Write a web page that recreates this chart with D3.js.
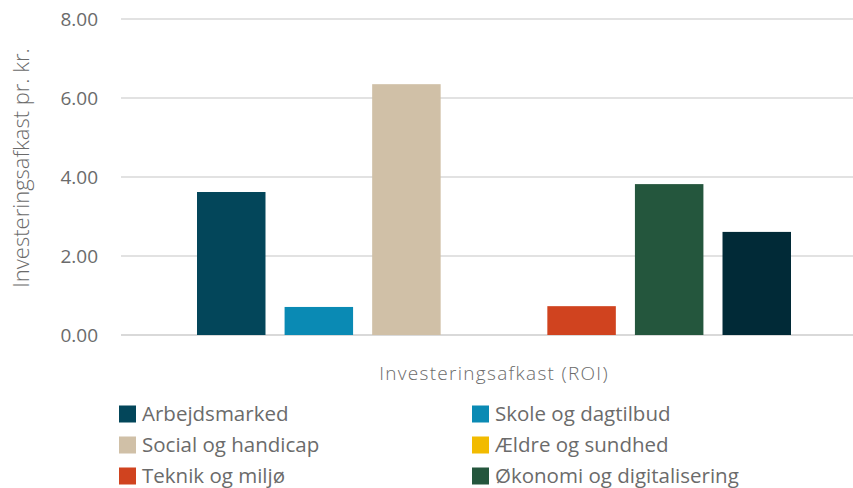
<!DOCTYPE html>
<html>
<head>
<meta charset="utf-8">
<script src="https://cdn.jsdelivr.net/npm/d3@7"></script>
<style>
  html, body { margin: 0; padding: 0; background: #fff; }
  svg { display: block; font-family: "Open Sans", sans-serif; }
</style>
</head>
<body>
<svg id="chart" width="853" height="488"></svg>
<script>
const categories = ["Arbejdsmarked", "Skole og dagtilbud", "Social og handicap", "Ældre og sundhed", "Teknik og miljø", "Økonomi og digitalisering", "Øvrige"];
const values = [3.62, 0.71, 6.35, 0, 0.73, 3.82, 2.61];
const colors = ["#03465a", "#0a8ab4", "#d0c0a7", "#f2bb00", "#d0431f", "#24563d", "#012a37"];
const legendCount = 6; // the reference shows only the first six legend entries
const yTicks = [0, 2, 4, 6, 8];
const xTitle = "Investeringsafkast (ROI)";
const yTitle = "Investeringsafkast pr. kr.";

const svg = d3.select("#chart");
const textColor = "#6b6b6b";

const y = d3.scaleLinear().domain([0, 8]).range([335, 19]);
const x = d3.scaleBand().domain(categories).range([197, 791]).paddingInner(0.218).paddingOuter(0);

// y axis labels
const yAxis = d3.axisLeft(y).tickValues(yTicks).tickFormat(d3.format(".2f")).tickSize(0).tickPadding(0);
const gAxis = svg.append("g").attr("transform", "translate(98,0)").call(yAxis);
gAxis.select(".domain").remove();
gAxis.selectAll("text").attr("font-size", 19).attr("fill", textColor).attr("x", 0).attr("dy", "0.35em")
  .style("font-family", "Open Sans");

// gridlines
svg.append("g").selectAll("line").data(yTicks).join("line")
  .attr("x1", 121).attr("x2", 853)
  .attr("y1", d => y(d)).attr("y2", d => y(d))
  .attr("stroke", "#d9d9d9").attr("stroke-width", d => d === 0 ? 2 : 1.5);

// bars
svg.append("g").selectAll("rect").data(categories).join("rect")
  .attr("x", d => x(d))
  .attr("width", x.bandwidth())
  .attr("y", (d, i) => y(values[i]))
  .attr("height", (d, i) => y(0) - y(values[i]))
  .attr("fill", (d, i) => colors[i]);

// y title
svg.append("text")
  .attr("transform", "translate(29,168) rotate(-90)")
  .attr("text-anchor", "middle")
  .attr("font-size", 22)
  .attr("font-weight", 300)
  .attr("fill", textColor)
  .text(yTitle);

// x title
svg.append("text")
  .attr("x", 494).attr("y", 380)
  .attr("text-anchor", "middle")
  .attr("font-size", 19)
  .attr("font-weight", 300)
  .attr("letter-spacing", 1.3)
  .attr("fill", textColor)
  .text(xTitle);

// legend
const legend = svg.append("g").selectAll("g").data(categories.slice(0, legendCount)).join("g")
  .attr("transform", (d, i) => `translate(${i % 2 === 0 ? 119 : 472},${414 + Math.floor(i / 2) * 31})`);
legend.append("rect").attr("x", 0).attr("y", -8.5).attr("width", 17).attr("height", 17)
  .attr("fill", (d, i) => colors[i]);
legend.append("text").attr("x", 23).attr("y", 0).attr("dy", "0.35em")
  .attr("font-size", 20.5).attr("fill", textColor)
  .text(d => d);
</script>
</body>
</html>
